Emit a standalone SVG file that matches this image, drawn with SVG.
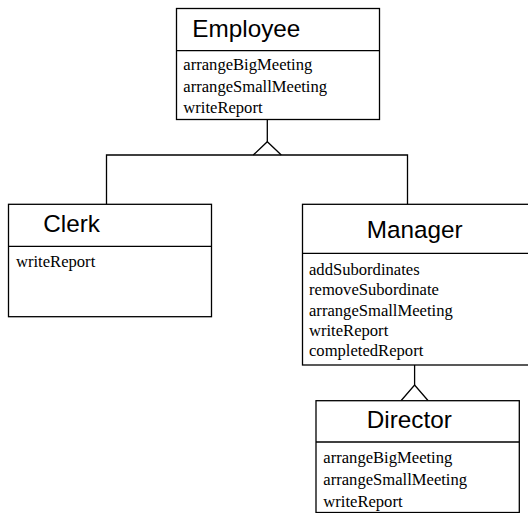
<svg xmlns="http://www.w3.org/2000/svg" width="528" height="513" viewBox="0 0 528 513">
<style>
.box{fill:#fff;stroke:#000;stroke-width:1.3}
.ln{fill:none;stroke:#000;stroke-width:1.3}
.title{font-family:"Liberation Sans",Arial,sans-serif;font-size:24.3px;fill:#000}
.m{font-family:"Liberation Serif","Times New Roman",serif;font-size:16.6px;fill:#000}
</style>
<rect width="528" height="513" fill="#fff"/>
<g id="connectors">
<path class="ln" d="M267.3,120 V141.7 M106.5,204 V155 H407.5 V204"/>
<path class="ln" d="M253.3,155 L267.3,141.7 L281.3,155"/>
<path class="ln" d="M414.6,365 V385"/>
<path class="ln" d="M401,400.7 L414.6,385 L428.2,400.7"/>
</g>
<g id="employee">
<rect class="box" x="176.5" y="8.5" width="203" height="111"/>
<line class="ln" x1="176.5" y1="50.7" x2="379.5" y2="50.7"/>
<text class="title" x="192.3" y="36.5">Employee</text>
<text class="m" x="183.3" y="70">arrangeBigMeeting</text>
<text class="m" x="183.3" y="91.6">arrangeSmallMeeting</text>
<text class="m" x="183.3" y="113.2">writeReport</text>
</g>
<g id="clerk">
<rect class="box" x="8.5" y="204.3" width="203" height="112.4"/>
<line class="ln" x1="8.5" y1="246.3" x2="211.5" y2="246.3"/>
<text class="title" x="43.3" y="231.7">Clerk</text>
<text class="m" x="16" y="266.7">writeReport</text>
</g>
<g id="manager">
<rect class="box" x="302.5" y="204.3" width="228" height="160.7"/>
<line class="ln" x1="302.5" y1="253.3" x2="530" y2="253.3"/>
<text class="title" x="366.7" y="238.3">Manager</text>
<text class="m" x="309" y="275">addSubordinates</text>
<text class="m" x="309" y="295.3">removeSubordinate</text>
<text class="m" x="309" y="315.5">arrangeSmallMeeting</text>
<text class="m" x="309" y="335.7">writeReport</text>
<text class="m" x="309" y="356">completedReport</text>
</g>
<g id="director">
<rect class="box" x="316" y="400.7" width="203.3" height="111.8"/>
<line class="ln" x1="316" y1="442" x2="519.3" y2="442"/>
<text class="title" x="366.7" y="428.3">Director</text>
<text class="m" x="323.3" y="463">arrangeBigMeeting</text>
<text class="m" x="323.3" y="485">arrangeSmallMeeting</text>
<text class="m" x="323.3" y="507">writeReport</text>
</g>
</svg>
